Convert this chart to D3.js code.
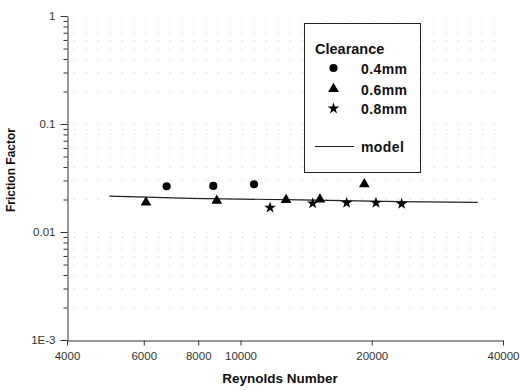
<!DOCTYPE html>
<html>
<head>
<meta charset="utf-8">
<script src="https://cdn.jsdelivr.net/npm/d3@7"></script>
<style>
  body { margin: 0; background: #fff; }
  svg { display: block; font-family: "Liberation Sans", Arial, sans-serif; }
</style>
</head>
<body>
<svg id="chart" width="520" height="391"></svg>
<script>
// data
const re04 = [6770, 8660, 10740];
const f04 = [0.0265, 0.0267, 0.0277];
const re06 = [6070, 8820, 12720, 15210, 19230];
const f06 = [0.0188, 0.0195, 0.0198, 0.0200, 0.0277];
const re08 = [11690, 14640, 17520, 20450, 23420];
const f08 = [0.0168, 0.0184, 0.0186, 0.0186, 0.0182];
const reModel = [5000, 7700, 13700, 23200, 35000];
const fModel = [0.0215, 0.0205, 0.0198, 0.0191, 0.0188];

const xTicks = [4000, 6000, 8000, 10000, 20000, 40000];
const yTicks = [1, 0.1, 0.01, 0.001];
const yTickLabels = ["1", "0.1", "0.01", "1E-3"];

const svg = d3.select("#chart");

const x = d3.scaleLog().domain([4000, 40000]).range([67, 503]);
const y = d3.scaleLog().domain([0.001, 1]).range([340, 16]);

// minor y positions (2..9 in each decade)
const yMinor = [];
[0.001, 0.01, 0.1].forEach(d => {
    for (let k = 2; k <= 9; k++) yMinor.push(d * k);
});

// faint dotted grid (scan speckle)
svg.append("g")
    .selectAll("line")
    .data(yMinor.concat([0.1, 0.01]))
    .join("line")
    .attr("x1", 74)
    .attr("x2", 500)
    .attr("y1", d => Math.round(y(d)) + 0.5)
    .attr("y2", d => Math.round(y(d)) + 0.5)
    .attr("stroke", "#d0d0d0")
    .attr("stroke-width", 1)
    .attr("stroke-dasharray", "1,11");

// left axis
const yAxis = d3.axisLeft(y)
    .tickValues(yTicks)
    .tickFormat((d, i) => yTickLabels[i])
    .tickSize(7)
    .tickSizeOuter(0)
    .tickPadding(5);

const gy = svg.append("g")
    .attr("transform", "translate(67.5,0)")
    .call(yAxis);
gy.select(".domain").attr("stroke", "#333");
gy.selectAll(".tick line").attr("stroke", "#333");
gy.selectAll("text")
    .attr("font-size", 11.5)
    .attr("fill", "#333")
    .attr("font-family", "Liberation Sans, Arial, sans-serif");

svg.append("g")
    .attr("transform", "translate(67.5,0)")
    .call(d3.axisLeft(y).tickValues(yMinor).tickFormat("").tickSize(4).tickSizeOuter(0))
    .call(g => g.select(".domain").remove())
    .selectAll(".tick line").attr("stroke", "#333");

// bottom axis
const xAxis = d3.axisBottom(x)
    .tickValues(xTicks)
    .tickFormat(d3.format("d"))
    .tickSize(5)
    .tickSizeOuter(0)
    .tickPadding(6);

const gx = svg.append("g")
    .attr("transform", "translate(0,340.5)")
    .call(xAxis);
gx.select(".domain").attr("stroke", "#333");
gx.selectAll(".tick line").attr("stroke", "#333");
gx.selectAll("text")
    .attr("font-size", 11.5)
    .attr("fill", "#333")
    .attr("font-family", "Liberation Sans, Arial, sans-serif");

// axis titles
svg.append("text")
    .attr("x", 280)
    .attr("y", 383)
    .attr("text-anchor", "middle")
    .attr("font-size", 13.5)
    .attr("font-weight", "bold")
    .attr("fill", "#111")
    .text("Reynolds Number");

svg.append("text")
    .attr("transform", "translate(15,170) rotate(-90)")
    .attr("text-anchor", "middle")
    .attr("font-size", 12)
    .attr("font-weight", "bold")
    .attr("fill", "#111")
    .text("Friction Factor");

// model line
const line = d3.line()
    .x(d => x(d[0]))
    .y(d => y(d[1]));

svg.append("path")
    .datum(d3.zip(reModel, fModel))
    .attr("d", line)
    .attr("fill", "none")
    .attr("stroke", "#222")
    .attr("stroke-width", 1.2);

// markers
const series = [
    { re: re04, f: f04, sym: d3.symbolCircle, size: 52 },
    { re: re06, f: f06, sym: d3.symbolTriangle, size: 50 },
    { re: re08, f: f08, sym: d3.symbolStar, size: 42 }
];

series.forEach(s => {
    svg.append("g")
        .selectAll("path")
        .data(d3.zip(s.re, s.f))
        .join("path")
        .attr("transform", d => `translate(${x(d[0])},${y(d[1])})`)
        .attr("d", d3.symbol(s.sym, s.size))
        .attr("fill", "#000");
});

// legend
const legend = svg.append("g");
legend.append("rect")
    .attr("x", 304.5)
    .attr("y", 23.5)
    .attr("width", 116)
    .attr("height", 149)
    .attr("fill", "#fff")
    .attr("stroke", "#222")
    .attr("stroke-width", 1);

legend.append("text")
    .attr("x", 315)
    .attr("y", 53.5)
    .attr("font-size", 14.5)
    .attr("font-weight", "bold")
    .attr("fill", "#111")
    .text("Clearance");

const legendNames = ["0.4mm", "0.6mm", "0.8mm"];
const legendY = [68, 89, 108.5];

series.forEach((s, i) => {
    legend.append("path")
        .attr("transform", `translate(333.5,${legendY[i]})`)
        .attr("d", d3.symbol(s.sym, s.size))
        .attr("fill", "#000");
    legend.append("text")
        .attr("x", 361)
        .attr("y", legendY[i] + 5.5)
        .attr("font-size", 14)
        .attr("font-weight", "bold")
        .attr("letter-spacing", 0.4)
        .attr("fill", "#111")
        .text(legendNames[i]);
});

legend.append("line")
    .attr("x1", 315)
    .attr("x2", 354)
    .attr("y1", 146.5)
    .attr("y2", 146.5)
    .attr("stroke", "#222")
    .attr("stroke-width", 1.2);

legend.append("text")
    .attr("x", 361)
    .attr("y", 152)
    .attr("font-size", 14)
    .attr("font-weight", "bold")
    .attr("letter-spacing", 0.4)
    .attr("fill", "#111")
    .text("model");
</script>
</body>
</html>
